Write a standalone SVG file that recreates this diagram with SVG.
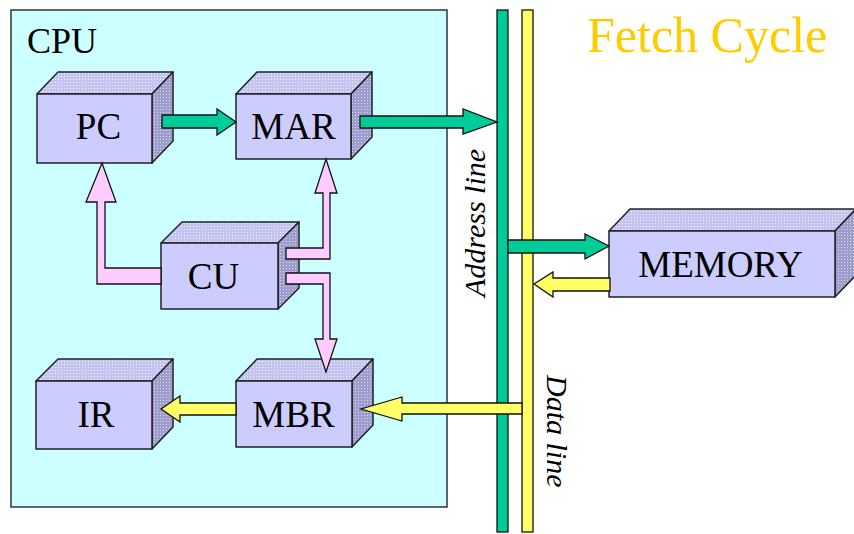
<svg xmlns="http://www.w3.org/2000/svg" width="854" height="534" viewBox="0 0 854 534">
<defs>
<pattern id="dotTop" width="3" height="3" patternUnits="userSpaceOnUse">
<rect width="3" height="3" fill="#C4C4F2"/>
<rect x="1" y="1" width="1" height="1" fill="#F4F4FF"/>
</pattern>
<pattern id="dotSide" width="3" height="3" patternUnits="userSpaceOnUse">
<rect width="3" height="3" fill="#9E9ECE"/>
<rect x="1" y="1" width="1" height="1" fill="#D8D8F4"/>
</pattern>
</defs>
<style>
.face{fill:#CCCCFF;stroke:#222;stroke-width:1.5;stroke-linejoin:round}
.top{fill:url(#dotTop);stroke:#222;stroke-width:1.5;stroke-linejoin:round}
.side{fill:url(#dotSide);stroke:#222;stroke-width:1.5;stroke-linejoin:round}
.lbl{font-family:"Liberation Serif","Times New Roman",serif;font-size:37px;fill:#000;text-anchor:middle}
.green{fill:#00CC99;stroke:#111;stroke-width:1.3;stroke-linejoin:miter}
.yellow{fill:#FFFF66;stroke:#111;stroke-width:1.3;stroke-linejoin:miter}
.pink{fill:#FFCCFF;stroke:#111;stroke-width:1.3;stroke-linejoin:miter}
.ital{font-family:"Liberation Serif","Times New Roman",serif;font-size:30px;font-style:italic;fill:#000}
</style>
<rect width="854" height="534" fill="#FFFFFF"/>
<g id="cpu">
<rect x="11" y="10" width="436" height="497" fill="#CCFFFF" stroke="#333" stroke-width="1.5"/>
<text x="27" y="53" style="font-family:'Liberation Serif','Times New Roman',serif;font-size:36px;fill:#000">CPU</text>
</g>
<g id="title">
<text x="587" y="52" style="font-family:'Liberation Serif','Times New Roman',serif;font-size:50px;fill:#FFCC00">Fetch Cycle</text>
</g>
<g id="buses">
<rect id="address-bus" x="497" y="10" width="11" height="522" class="green"/>
<rect id="data-bus" x="522" y="10" width="11" height="522" class="yellow"/>
<text class="ital" transform="translate(485,297) rotate(-90)">Address line</text>
<text class="ital" transform="translate(547,375) rotate(90)">Data line</text>
</g>
<g id="pc">
<polygon class="top" points="37,94 58,72 173,72 152,94"/>
<polygon class="side" points="152,94 173,72 173,141 152,163"/>
<rect class="face" x="37" y="94" width="115" height="69"/>
<text class="lbl" x="98.5" y="139">PC</text>
</g>
<g id="mar">
<polygon class="top" points="236,94 257,72 372,72 351,94"/>
<polygon class="side" points="351,94 372,72 372,137 351,159"/>
<rect class="face" x="236" y="94" width="115" height="65"/>
<text class="lbl" x="293.5" y="139">MAR</text>
</g>
<g id="cu">
<polygon class="top" points="161,243 182,222 299,222 278,243"/>
<polygon class="side" points="278,243 299,222 299,288 278,309"/>
<rect class="face" x="161" y="243" width="117" height="66"/>
<text class="lbl" x="213.5" y="289">CU</text>
</g>
<g id="ir">
<polygon class="top" points="36,381 58,359 173,359 152,381"/>
<polygon class="side" points="152,381 173,359 173,427 152,449"/>
<rect class="face" x="36" y="381" width="116" height="68"/>
<text class="lbl" x="96" y="427">IR</text>
</g>
<g id="mbr">
<polygon class="top" points="236,381 257,359 373,359 352,381"/>
<polygon class="side" points="352,381 373,359 373,425 352,447"/>
<rect class="face" x="236" y="381" width="116" height="66"/>
<text class="lbl" x="293.5" y="427">MBR</text>
</g>
<g id="memory">
<polygon class="top" points="609,231 630,209 856,209 835,231"/>
<polygon class="side" points="835,231 856,209 856,275 835,297"/>
<rect class="face" x="609" y="231" width="226" height="66"/>
<text class="lbl" x="720.5" y="277">MEMORY</text>
</g>
<g id="connectors">
<polygon class="green" points="162,115 217,115 217,109 236,122 217,135 217,128 162,128"/>
<polygon class="green" points="360,116 463,116 463,109 497,122 463,134 463,128 360,128"/>
<polygon class="green" points="508,240 585,240 585,234 609,246 585,259 585,253 508,253"/>
<polygon class="yellow" points="610,278 553,278 553,272 534,284 553,297 553,291 610,291"/>
<polygon class="yellow" points="522,403 402,403 402,397 361,409 402,421 402,414 522,414"/>
<polygon class="yellow" points="236,403 180,403 180,396 161,409 180,422 180,415 236,415"/>
<polygon class="pink" points="161,268 105,268 105,202 116,202 102,163 86,202 97,202 97,284 161,284"/>
<polygon class="pink" points="286,248 323,248 323,193 315,193 326,159 337,193 330,193 330,259 286,259"/>
<polygon class="pink" points="286,273 330,273 330,339 337,339 326,372 315,339 323,339 323,284 286,284"/>
</g>
</svg>
